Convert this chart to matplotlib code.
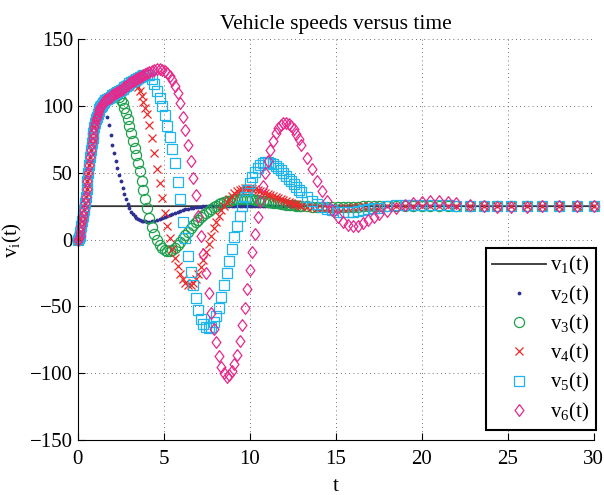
import matplotlib
matplotlib.use('Agg')
import matplotlib.pyplot as plt

# time samples (solver steps), denser at the start
t_a = [0.00, 0.05, 0.10, 0.15, 0.20, 0.25, 0.30, 0.35, 0.40, 0.45, 0.50,
       0.55, 0.60, 0.65, 0.70, 0.75, 0.80, 0.85, 0.90, 0.95, 1.00, 1.05,
       1.10, 1.15, 1.20, 1.25, 1.30, 1.35, 1.40, 1.45, 1.50]
t_b = [1.6, 1.7, 1.8, 1.9, 2.0, 2.1, 2.2, 2.3, 2.4, 2.5, 2.6, 2.7, 2.8,
       2.9, 3.0, 3.1, 3.2, 3.3, 3.4, 3.5, 3.6, 3.7, 3.8, 3.9, 4.0]
t_c = [4.15, 4.30, 4.45, 4.60, 4.75, 4.90, 5.05, 5.20, 5.35, 5.50,
       5.65, 5.80, 5.95, 6.10, 6.25, 6.40, 6.55, 6.70, 6.85, 7.00,
       7.15, 7.30, 7.45, 7.60, 7.75, 7.90, 8.05, 8.20, 8.35, 8.50,
       8.65, 8.80, 8.95, 9.10, 9.25, 9.40, 9.55, 9.70, 9.85, 10.00,
       10.15, 10.30, 10.45, 10.60, 10.75, 10.90, 11.05, 11.20, 11.35, 11.50,
       11.65, 11.80, 11.95, 12.10, 12.25, 12.40, 12.55, 12.70, 12.85, 13.00]
t_d = [13.3, 13.6, 13.9, 14.2, 14.5, 14.8, 15.1, 15.4, 15.7, 16.0,
       16.3, 16.6, 16.9, 17.2, 17.5]
t_e = [18.0, 18.5, 19.0, 19.5, 20.0, 20.5, 21.0, 21.5, 22.0]
t_f = [22.8, 23.6, 24.4, 25.2, 26.1, 27.0, 28.0, 29.0, 30.0]
t = t_a + t_b + t_c + t_d + t_e + t_f

# shared initial rise of all following vehicles (t_a)
rise = [0, 1, 3, 6, 10, 14, 18, 22, 27, 32, 38, 44, 50, 56, 62, 67, 72, 76,
        80, 84, 87, 90, 92, 94, 96, 97.5, 99, 100, 101, 102, 103]
# upper envelope over t_b
upper = [104.5, 105.3, 106, 107, 108, 108.8, 109.6, 110.4, 111.2, 112, 113,
         114, 115, 116, 117, 117.8, 118.6, 119.4, 120.2, 121, 121.7, 122.4,
         123.1, 123.8, 124.5]

v1 = [0] + [25] * (len(t) - 1)

v2 = (rise[:28] + [100.5, 100.5, 100]
      + [97, 92, 86, 78.5, 71, 65, 59, 53.5, 48.5, 43.5, 38.5, 34, 30, 26.5,
         23.5, 21, 19, 17.5, 16.3, 15.3, 14.6, 14.1, 13.8, 13.6, 13.5]
      + [13.5, 13.6, 14, 14.6, 15.3, 16, 16.8, 17.6, 18.4, 19.2,
         20, 20.7, 21.4, 22, 22.6, 23.1, 23.5, 23.9, 24.2, 24.5,
         24.7, 24.9, 25, 25.1] + [25.2] * 7 + [25.1] * 9 + [25] * 20
      + [25] * 15 + [25] * 9 + [25] * 9)

v3 = (rise
      + [104.5, 105.5, 106.5, 107.5, 108, 108.5, 108.5, 108, 106.5, 104.5,
         102, 98.5, 95, 90.5, 85, 79.5, 74, 68.5, 63, 57, 51, 44, 37, 30, 24]
      + [16, 9.5, 4, -0.5, -4, -6.5, -8, -8.5, -8.5, -7.5,
         -6, -4, -1.5, 1, 3.5, 6, 8.5, 11, 13, 15,
         17, 18.5, 20, 21.5, 23, 24.2, 25.4, 26.4, 27.3, 28,
         28.7, 29.2, 29.6, 30, 30.2, 30.4, 30.5, 30.5, 30.4, 30.2,
         30, 29.7, 29.4, 29.1, 28.8, 28.5, 28.2, 27.9, 27.6, 27.3,
         27, 26.7, 26.5, 26.2, 26, 25.8, 25.6, 25.4, 25.3, 25.1]
      + [24.9, 24.7, 24.5, 24.4, 24.3, 24.3, 24.3, 24.4, 24.5, 24.6,
         24.7, 24.8, 24.9, 25, 25]
      + [25] * 9 + [25] * 9)

v4 = (rise
      + upper[:13] + [115.8, 116.5, 117, 117.2, 117, 116, 114, 111, 107.5,
                      103, 98.5, 94]
      + [86, 76, 65, 53, 42, 31, 20, 10, 1, -7,
         -14, -20, -25.5, -29.5, -32.5, -34, -34, -32.5, -29.5, -25.5,
         -20.5, -15, -9, -3, 3, 8.5, 13.5, 18, 22, 25,
         28, 30.5, 32.7, 34.6, 36.1, 37.2, 37.9, 38.3, 38.5, 38.4,
         38.1, 37.7, 37.1, 36.4, 35.7, 34.9, 34.1, 33.3, 32.5, 31.7,
         30.9, 30.1, 29.4, 28.7, 28, 27.4, 26.8, 26.3, 25.8, 25.4]
      + [24.7, 24.1, 23.7, 23.4, 23.3, 23.3, 23.4, 23.6, 23.9, 24.2,
         24.5, 24.8, 25, 25.2, 25.3]
      + [25.3, 25.3, 25.2, 25.1, 25, 25, 25, 25, 25]
      + [25] * 9)

v5 = (rise
      + upper[:22] + [123, 123.3, 123.3]
      + [122.8, 120.5, 116.5, 111.5, 106, 100, 93, 85, 77, 67.5,
         57, 43, 30, 13, 1, -12, -24, -34, -44, -53,
         -59.5, -63.5, -65.5, -66, -65.5, -62, -57.5, -51, -43, -34,
         -25, -16, -7, 2, 10, 18, 25, 31.5, 37, 42,
         46.5, 50.5, 53.5, 55.8, 57.2, 57.8, 57.8, 57.2, 56.2, 54.9,
         53.4, 51.7, 49.8, 47.8, 45.7, 43.6, 41.5, 39.4, 37.4, 35.4]
      + [31.8, 28.9, 26.6, 24.6, 23, 21.8, 21, 20.6, 20.5, 20.8,
         21.3, 22, 22.7, 23.4, 24]
      + [24.9, 25.6, 26, 26.2, 26.2, 26, 25.8, 25.5, 25.3]
      + [25.1, 25, 24.9, 24.9, 24.9, 25, 25, 25, 25])

v6 = (rise
      + upper
      + [125.3, 126.2, 127, 127.5, 127.5, 127, 126, 124.5, 122.5, 119.5,
         115, 109.5, 102, 92, 82, 71, 59, 46, 33, 18,
         3, -11, -25, -40, -55, -67, -77, -87, -95, -100,
         -102.5, -101.5, -98, -93, -86, -76, -64, -51, -37, -23,
         -9, 4, 17, 29, 40, 50, 59, 67, 74, 79.5,
         83.5, 86, 87.3, 87.5, 86.7, 85, 82.5, 79, 75, 70.5]
      + [61, 52.5, 44, 36, 28.5, 22, 17, 13, 11, 10.2,
         10.5, 12.5, 14.8, 17, 19]
      + [21.5, 23.5, 25.5, 27.2, 28.3, 28.8, 28.7, 28.1, 27.2]
      + [26, 25.1, 24.6, 24.4, 24.5, 24.8, 25, 25.1, 25.1])

labels = [r'v$_1$(t)', r'v$_2$(t)', r'v$_3$(t)', r'v$_4$(t)', r'v$_5$(t)', r'v$_6$(t)']
xticks = [0, 5, 10, 15, 20, 25, 30]
yticks = [-150, -100, -50, 0, 50, 100, 150]

plt.rcParams['font.family'] = ['Liberation Serif', 'DejaVu Serif']
plt.rcParams['mathtext.fontset'] = 'custom'
plt.rcParams['mathtext.rm'] = 'Liberation Serif'
plt.rcParams['mathtext.it'] = 'Liberation Serif:italic'

fig = plt.figure(figsize=(6.04, 4.95), dpi=100)
ax = fig.add_axes([0.129, 0.111, 0.854, 0.810])

diamond = [(0, 1), (0.75, 0), (0, -1), (-0.75, 0), (0, 1)]

ax.plot(t, v1, '-', color='#333333', lw=1.3, label=labels[0])
ax.plot(t, v2, '.', color='#2e3192', ms=3.5, ls='none', label=labels[1], clip_on=False)
ax.plot(t, v3, 'o', mfc='none', mec='#1ea04c', ms=7.3, mew=0.9, ls='none', label=labels[2], clip_on=False)
ax.plot(t, v4, 'x', color='#ec2a2a', ms=5.8, mew=0.9, ls='none', label=labels[3], clip_on=False)
ax.plot(t, v5, 's', mfc='none', mec='#1eb4ec', ms=6.6, mew=0.9, ls='none', label=labels[4], clip_on=False)
ax.plot(t, v6, marker=diamond, mfc='none', mec='#e8288c', ms=8.5, mew=0.9, ls='none', label=labels[5], clip_on=False)

ax.set_xlim(0, 30)
ax.set_ylim(-150, 150)
ax.set_xticks(xticks)
ax.set_yticks(yticks)
ax.grid(True, linestyle=(0, (1, 4)), color='#444444', lw=0.6)
ax.tick_params(direction='in', length=5, labelsize=15, top=False, right=False)
ax.tick_params(axis='x', pad=7)
for s in ['top', 'right']:
    ax.spines[s].set_visible(False)

ax.set_title('Vehicle speeds versus time', fontsize=15.5, pad=7)
ax.set_xlabel('t', fontsize=15, labelpad=6)
ax.set_ylabel(r'v$_\mathrm{i}$(t)', fontsize=15)

leg = ax.legend(loc='lower right', bbox_to_anchor=(1.004, 0.025), fancybox=False,
                edgecolor='black', fontsize=15, handlelength=2.6, borderpad=0.3,
                labelspacing=0.3, handletextpad=0.2, borderaxespad=0, framealpha=1)
leg.get_frame().set_linewidth(1.5)

plt.savefig('out.png', dpi=100)
